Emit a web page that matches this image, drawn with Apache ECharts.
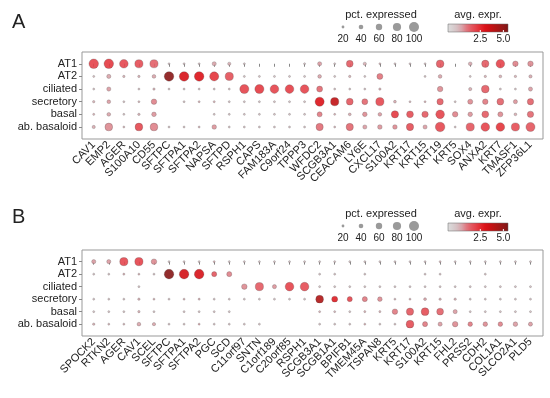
<!DOCTYPE html>
<html><head><meta charset="utf-8">
<script src="https://cdn.jsdelivr.net/npm/echarts@6/dist/echarts.min.js"></script>
<style>html,body{margin:0;padding:0;background:#fff}#c{width:550px;height:398px}</style></head>
<body><div id="c"></div><script>
const cellTypes = ['AT1','AT2','ciliated','secretory','basal','ab. basaloid'];
const genesA = ['CAV1','EMP2','AGER','S100A10','CD55','SFTPC','SFTPA1','SFTPA2','NAPSA','SFTPD','RSPH1','CAPS','FAM183A','C9orf24','TPPP3','WFDC2','SCGB3A1','CEACAM6','LY6E','CXCL17','S100A2','KRT17','KRT15','KRT19','KRT5','SOX4','ANXA2','KRT7','TMASF1','ZFP36L1'];
const genesB = ['SPOCK2','RTKN2','AGER','CAV1','SCEL','SFTPC','SFTPA1','SFTPA2','PGC','SCD','C11orf97','SNTN','C1orf189','C20orf85','RSPH1','SCGB3A1','SCGB1A1','BPIFB1','TMEM45A','TSPAN8','KRT5','KRT17','S100A2','KRT15','FHL2','PRSS2','CDH2','COL1A1','SLCO2A1','PLD5'];

// Panel A: percent expressed (rows = cell types)
const pctA = [
 [95,95,85,80,80,5,3,3,35,25,2,0,0,0,5,35,4,65,25,10,3,3,5,75,0,30,70,85,50,50],
 [10,35,15,15,30,95,95,95,90,80,2,2,2,2,5,30,5,15,5,55,0,0,3,30,0,5,15,20,15,25],
 [3,35,0,5,15,2,2,2,2,2,90,90,85,85,85,55,3,5,3,15,0,0,0,50,0,25,75,12,5,35],
 [15,30,5,10,50,0,5,10,12,5,3,3,3,3,3,90,80,65,55,80,20,8,10,60,3,45,50,65,35,60],
 [12,30,3,15,40,0,0,0,5,5,2,2,2,2,3,45,8,20,40,30,70,65,60,85,50,40,65,45,20,60],
 [25,75,8,75,75,3,3,8,40,5,2,2,2,2,3,70,8,70,35,40,40,70,35,95,5,80,85,85,80,90]
];
// Panel A: average expression
const exprA = [
 [2.0,2.2,1.9,1.8,1.4,0,0,0,0.5,0.3,0,0,0,0,0,0.6,0,1.5,0.3,0.2,0,0,0,1.6,0,0.4,1.5,2.0,0.9,0.8],
 [0.1,0.5,0.3,0.3,0.5,5.2,3.2,3.0,2.3,1.7,0,0,0,0,0,0.5,0,0.3,0,1.1,0,0,0,0.5,0,0,0.3,0.3,0.3,0.4],
 [0,0.6,0,0,0.3,0,0,0,0,0,2.0,2.2,2.0,2.1,2.0,1.3,0,0,0,0.4,0,0,0,0.8,0,0.4,1.5,0,0,0.6],
 [0.3,0.6,0,0.2,0.9,0,0,0.3,0.3,0,0,0,0,0,0,3.0,3.8,1.6,1.3,1.9,0.4,0.2,0.3,1.5,0,0.8,1.0,1.4,0.7,1.4],
 [0.3,0.5,0,0.3,0.7,0,0,0,0,0,0,0,0,0,0,1.0,0.3,0.4,0.8,0.6,2.2,1.8,1.5,2.0,0.9,0.7,1.5,0.8,0.3,1.3],
 [0.4,0.8,0.2,1.9,0.9,0,0,0.2,0.7,0,0,0,0,0,0,1.2,0.2,1.3,0.6,0.7,0.8,1.8,0.6,1.9,0,1.6,2.0,2.3,1.8,1.6]
];
// Panel B: percent expressed
const pctB = [
 [35,35,80,80,50,3,3,5,8,5,2,2,2,2,2,3,3,3,4,4,3,3,4,8,3,2,3,3,2,2],
 [3,3,12,10,4,95,95,95,45,45,0,0,0,0,0,5,3,0,3,0,0,0,3,3,0,0,3,0,0,0],
 [0,0,0,2,0,0,0,0,0,0,50,80,35,85,85,3,3,3,3,3,3,3,3,3,3,3,3,3,3,3],
 [3,3,5,15,8,2,8,12,3,3,3,2,2,2,2,75,55,45,45,40,8,10,20,15,15,2,2,2,2,2],
 [2,2,2,15,3,0,2,2,2,2,0,0,0,0,0,10,8,5,12,12,50,70,75,65,35,2,2,2,2,2],
 [15,8,8,30,25,2,2,6,2,2,2,2,0,0,0,3,2,3,10,5,5,75,45,35,50,40,40,40,40,35]
];
// Panel B: average expression
const exprB = [
 [0.6,0.6,1.9,2.0,0.8,0,0,0,0.3,0,0,0,0,0,0,0,0,0,0,0,0,0,0,0.2,0,0,0,0,0,0],
 [0,0,0.3,0.3,0,5.3,3.3,3.2,1.6,0.9,0,0,0,0,0,0,0,0,0,0,0,0,0,0,0,0,0,0,0,0],
 [0,0,0,0,0,0,0,0,0,0,0.8,1.5,0.7,2.0,1.8,0,0,0,0,0,0,0,0,0,0,0,0,0,0,0],
 [0,0,0,0.3,0.3,0,0.3,0.3,0,0,0,0,0,0,0,4.2,2.8,2.0,1.0,0.8,0.2,0.3,0.5,0.3,0.3,0,0,0,0,0],
 [0,0,0,0.3,0,0,0,0,0,0,0,0,0,0,0,0.3,0.2,0,0.3,0.3,1.0,1.6,1.8,1.4,0.6,0,0,0,0,0],
 [0.3,0.2,0.2,0.5,0.5,0,0,0.5,0,0,0,0,0,0,0,0,0,0,0.3,0,0,1.8,1.0,0.6,0.8,1.0,0.8,0.9,0.6,0.6]
];
const legendPct = [20,40,60,80,100];
const legendExprTicks = [2.5,5.0];

const exprMin = -1, exprMax = 5.5;
const colorStops = ['#dddddd','#d8d0d1','#d6bfc2','#d9a3a9','#e07880','#e35a62','#e4424a','#e22a30','#dc1218','#cc1015','#b81414','#a51616','#921818','#7e1414'];
const FONT = 'Liberation Sans, Arial, sans-serif';
const sizeOf = p => p <= 0 ? 0 : Math.max(2, 0.09 * p + 1);
const Y_MIN = -0.93, Y_MAX = 5.95;

function toData(pct, expr){
  const d = [];
  for (let r = 0; r < pct.length; r++)
    for (let c = 0; c < pct[r].length; c++)
      if (pct[r][c] > 0) d.push([c, r, pct[r][c], expr[r][c]]);
  return d;
}
const rowIdx = cellTypes.map((g,i)=>i);

// frame grids (border + row labels) and data grids (category x axis, 30 cells)
const frames = [{left:82, top:52, width:461, height:87}, {left:82, top:250, width:461, height:86}];
const dataGrids = [{left:86.2, top:52, width:451.8, height:87}, {left:86.2, top:250, width:451.8, height:86}];

function xAx(gi, genes){
  return {type:'category', gridIndex:gi, data:genes, boundaryGap:true,
    axisLine:{show:false}, splitLine:{show:false},
    axisTick:{show:true, alignWithLabel:true, interval:0, length:3, lineStyle:{color:'#888', width:1}},
    axisLabel:{interval:0, rotate:45, fontSize:11, color:'#222', margin:4, fontFamily:FONT}};
}
function yFrame(gi){
  return {type:'value', gridIndex:gi, inverse:true, min:Y_MIN, max:Y_MAX,
    axisLine:{show:false}, splitLine:{show:false},
    axisTick:{show:true, customValues:rowIdx, length:3, lineStyle:{color:'#888', width:1}},
    axisLabel:{customValues:rowIdx, showMinLabel:true, showMaxLabel:true,
      formatter:v=>cellTypes[Math.round(v)], fontSize:11, color:'#222', margin:5, fontFamily:FONT}};
}
const yData = gi => ({type:'value', gridIndex:gi, inverse:true, min:Y_MIN, max:Y_MAX, show:false});
const hiddenX = gi => ({type:'value', gridIndex:gi, show:false, min:0, max:1});

function legendGraphics(dy){
  const g = [];
  g.push({type:'text', x:381, y:9+dy, style:{text:'pct. expressed', font:'11px '+FONT, fill:'#222', align:'center'}});
  const xs = [343,361,379,397,414];
  legendPct.forEach((p,i)=>{
    const r = sizeOf(p)/2;
    g.push({type:'circle', shape:{cx:xs[i], cy:27+dy, r:r}, style:{fill:'#9a9a9a'}});
    g.push({type:'text', x:xs[i], y:34+dy, style:{text:String(p), font:'10px '+FONT, fill:'#222', align:'center'}});
  });
  g.push({type:'text', x:478, y:9+dy, style:{text:'avg. expr.', font:'11px '+FONT, fill:'#222', align:'center'}});
  const bx = 448, bw = 60;
  g.push({type:'rect', shape:{x:bx, y:24+dy, width:bw, height:8},
    style:{fill:new echarts.graphic.LinearGradient(0,0,1,0, colorStops.map((c,i)=>({offset:i/(colorStops.length-1), color:c}))), stroke:'#666', lineWidth:0.5}});
  legendExprTicks.forEach(t=>{
    const x = bx + (t-exprMin)/(exprMax-exprMin)*bw;
    g.push({type:'line', shape:{x1:x, y1:30+dy, x2:x, y2:32+dy}, style:{stroke:'#fff', lineWidth:1}});
    g.push({type:'text', x:x, y:34+dy, style:{text:t.toFixed(1), font:'10px '+FONT, fill:'#222', align:'center'}});
  });
  return g;
}

const chart = echarts.init(document.getElementById('c'), null, {renderer:'canvas'});
const itemStyle = {opacity:0.9, borderColor:'rgba(70,70,70,0.55)', borderWidth:0.5};
chart.setOption({
  animation:false,
  backgroundColor:'#fff',
  grid: [
    Object.assign({show:true, borderColor:'#999', borderWidth:1, backgroundColor:'transparent'}, frames[0]),
    Object.assign({show:true, borderColor:'#999', borderWidth:1, backgroundColor:'transparent'}, frames[1]),
    Object.assign({show:false}, dataGrids[0]),
    Object.assign({show:false}, dataGrids[1])
  ],
  xAxis:[hiddenX(0), hiddenX(1), xAx(2, genesA), xAx(3, genesB)],
  yAxis:[yFrame(0), yFrame(1), yData(2), yData(3)],
  visualMap:{type:'continuous', show:false, seriesIndex:[0,1], dimension:3, min:exprMin, max:exprMax, inRange:{color:colorStops}},
  series:[
    {type:'scatter', xAxisIndex:2, yAxisIndex:2, data:toData(pctA, exprA), symbolSize:v=>sizeOf(v[2]), itemStyle:itemStyle},
    {type:'scatter', xAxisIndex:3, yAxisIndex:3, data:toData(pctB, exprB), symbolSize:v=>sizeOf(v[2]), itemStyle:itemStyle}
  ],
  graphic:[
    {type:'text', x:12, y:12, style:{text:'A', font:'20px '+FONT, fill:'#222'}},
    {type:'text', x:12, y:207, style:{text:'B', font:'20px '+FONT, fill:'#222'}}
  ].concat(legendGraphics(0), legendGraphics(199))
});
</script></body></html>
